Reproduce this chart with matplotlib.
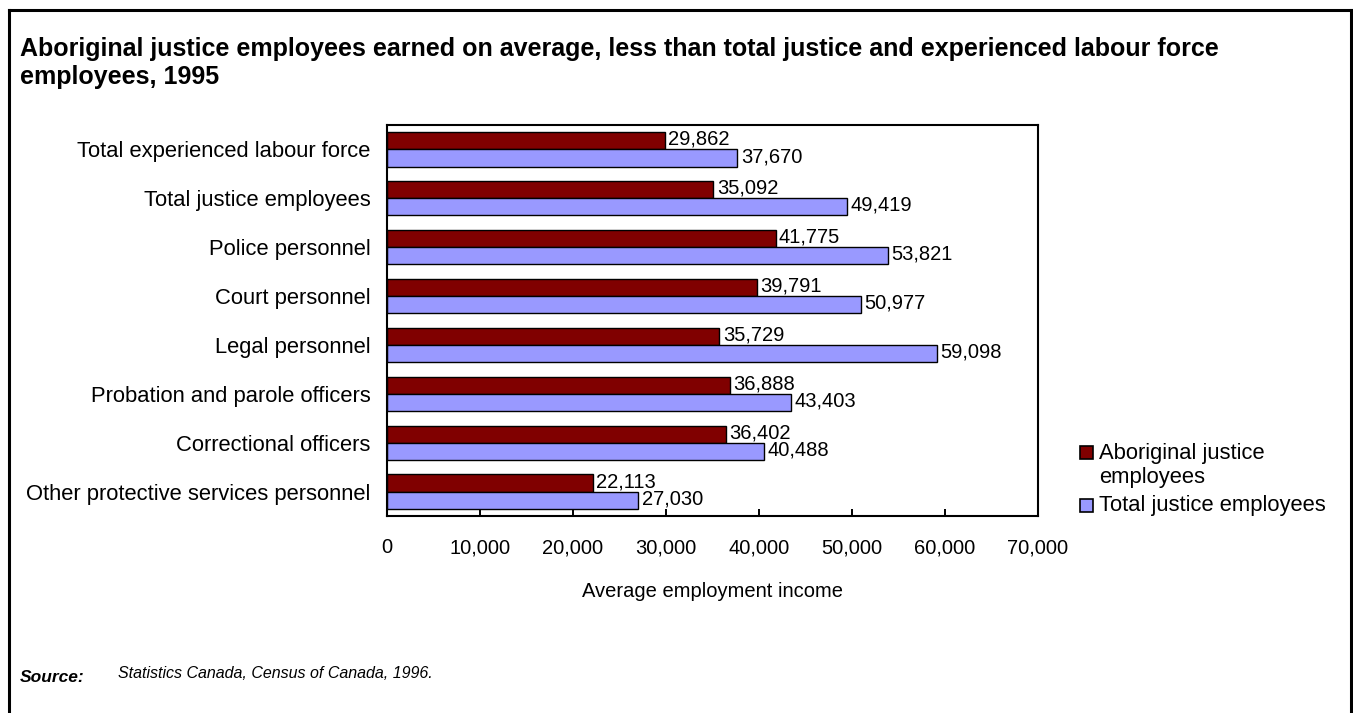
"""Average employment income of justice employees, 1995."""
import matplotlib
matplotlib.use("Agg")
import matplotlib.pyplot as plt
from matplotlib.lines import Line2D
from matplotlib.patches import Rectangle
from matplotlib.ticker import FuncFormatter

plt.rcParams['font.family'] = ['Liberation Sans', 'DejaVu Sans']

categories = [
    "Total experienced labour force",
    "Total justice employees",
    "Police personnel",
    "Court personnel",
    "Legal personnel",
    "Probation and parole officers",
    "Correctional officers",
    "Other protective services personnel",
]
aboriginal = [29862, 35092, 41775, 39791, 35729, 36888, 36402, 22113]
total_justice = [37670, 49419, 53821, 50977, 59098, 43403, 40488, 27030]
series_names = ["Aboriginal justice\nemployees", "Total justice employees"]
x_ticks = [0, 10000, 20000, 30000, 40000, 50000, 60000, 70000]

RED = "#800000"
BLUE = "#9999FF"
W, H = 1353, 713

fig = plt.figure(figsize=(W / 100, H / 100), dpi=100)
ax = fig.add_axes([387 / W, 1 - 516 / H, 651 / W, 391 / H])

h = 0.35
ypos = list(range(len(categories)))
bars_a = ax.barh([y - h / 2 for y in ypos], aboriginal, height=h,
                 color=RED, edgecolor="black", linewidth=1.0)
bars_t = ax.barh([y + h / 2 for y in ypos], total_justice, height=h,
                 color=BLUE, edgecolor="black", linewidth=1.0)

for bars, vals in ((bars_a, aboriginal), (bars_t, total_justice)):
    for b, v in zip(bars, vals):
        ax.annotate(f"{v:,}", (v, b.get_y() + b.get_height() / 2),
                    xytext=(2.5, 1), textcoords="offset points",
                    ha="left", va="center", fontsize=14.5)

ax.set_xlim(0, 70000)
ax.set_ylim(len(categories) - 0.5, -0.5)
ax.set_xticks(x_ticks)
ax.xaxis.set_major_formatter(FuncFormatter(lambda v, p: "0" if v == 0 else f"{int(v):,}"))
ax.set_yticks(ypos)
ax.set_yticklabels(categories)
ax.tick_params(axis="x", direction="in", length=5, width=1.4, pad=16, labelsize=14.5)
ax.tick_params(axis="y", length=0, pad=12, labelsize=15.8)
for s in ax.spines.values():
    s.set_linewidth(1.5)
ax.set_xlabel("Average employment income", fontsize=14.5, labelpad=18)

# title
fig.text(20 / W, 1 - 37 / H,
         "Aboriginal justice employees earned on average, less than total justice and experienced labour force\nemployees, 1995",
         ha="left", va="top", fontsize=18, fontweight="bold", linespacing=1.2)

# legend drawn by hand so the squares sit on the first text line
for i, (name, col) in enumerate(zip(series_names, (RED, BLUE))):
    ytop = [446, 499][i]
    fig.patches.append(Rectangle((1080 / W, 1 - (ytop + 13) / H), 13 / W, 13 / H,
                                 transform=fig.transFigure, facecolor=col,
                                 edgecolor="black", linewidth=1.2))
    lines = name.split("\n")
    for j, line in enumerate(lines):
        fig.text(1099 / W, 1 - (ytop + 7 + 24 * j) / H, line,
                 ha="left", va="center", fontsize=15.8)

# source note
fig.text(20 / W, 1 - 677 / H, "Source:", ha="left", va="center",
         fontsize=12.5, fontweight="bold", fontstyle="italic")
fig.text(118 / W, 1 - 673 / H, "Statistics Canada, Census of Canada, 1996.",
         ha="left", va="center", fontsize=11.5, fontstyle="italic")

# outer frame: left, top and right edges
frame = [([9, 9], [713, 10]), ([9, 1351], [10, 10]), ([1351, 1351], [10, 713])]
for xs, ys in frame:
    fig.lines.append(Line2D([x / W for x in xs], [1 - y / H for y in ys],
                            transform=fig.transFigure, color="black", linewidth=2.2))

fig.savefig("out.png", dpi=100)
